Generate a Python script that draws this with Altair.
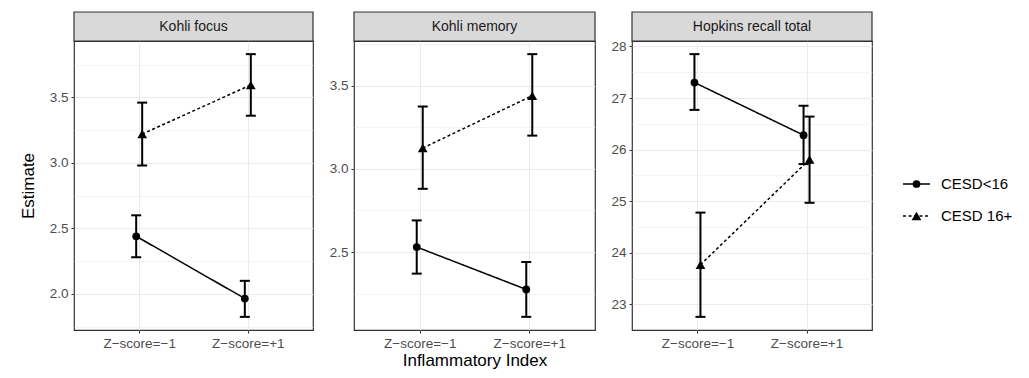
import altair as alt
import pandas as pd
import numpy as np

categories = ["Z\u2212score=\u22121", "Z\u2212score=+1"]
groups = ["CESD<16", "CESD 16+"]
panels = ["Kohli focus", "Kohli memory", "Hopkins recall total"]

# estimates / lower / upper per panel, per group (two categories each)
focus_low_est = [2.44, 1.965]
focus_low_lo = [2.28, 1.825]
focus_low_hi = [2.60, 2.10]
focus_high_est = [3.22, 3.595]
focus_high_lo = [2.98, 3.36]
focus_high_hi = [3.46, 3.83]

memory_low_est = [2.53, 2.275]
memory_low_lo = [2.37, 2.11]
memory_low_hi = [2.69, 2.44]
memory_high_est = [3.125, 3.44]
memory_high_lo = [2.88, 3.20]
memory_high_hi = [3.375, 3.69]

hopkins_low_est = [27.30, 26.28]
hopkins_low_lo = [26.77, 25.72]
hopkins_low_hi = [27.85, 26.85]
hopkins_high_est = [23.77, 25.81]
hopkins_high_lo = [22.76, 24.97]
hopkins_high_hi = [24.78, 26.64]

FONT = "Liberation Sans"
PH = 289


def make_df(low, high):
    rows = []
    for g, (est, lo, hi) in zip(groups, [low, high]):
        for c, e, l, h in zip(categories, est, lo, hi):
            rows.append({"cat": c, "group": g, "est": e, "lo": l, "hi": h})
    return pd.DataFrame(rows)


shape_enc = alt.Shape("group:N", scale=alt.Scale(domain=groups, range=["circle", "triangle-up"]), legend=None)
size_enc = alt.Size("group:N", scale=alt.Scale(domain=groups, range=[60, 95]), legend=None)
dash_enc = alt.StrokeDash("group:N", scale=alt.Scale(domain=groups, range=[[1, 0], [3, 2.5]]), legend=None)


def panel(name, df, major, fmt, ytitle, xtitle, width):
    lo, hi = df["lo"].min(), df["hi"].max()
    pad = 0.05 * (hi - lo)
    dom = [float(lo - pad), float(hi + pad)]
    minor = major / 2
    vals = [float(round(v, 4)) for v in np.arange(np.ceil(dom[0] / minor) * minor, dom[1], minor)]
    is_major = f"abs(datum.value/{major} - round(datum.value/{major})) < 0.000001"
    ax_kw = dict(
        values=vals,
        labelOverlap=False,
        labelExpr=f"{is_major} ? format(datum.value, '{fmt}') : ''",
        tickOpacity={"condition": {"test": is_major, "value": 1}, "value": 0},
        gridWidth={"condition": {"test": is_major, "value": 1.1}, "value": 0.55},
        titleFontSize=17, titleFontWeight="normal", titleColor="#000000",
        title=ytitle if ytitle else "",
    )
    if ytitle:
        ax_kw["titlePadding"] = 12
    yaxis = alt.Axis(**ax_kw)
    ysc = alt.Scale(domain=dom, nice=False, zero=False)
    xenc = alt.X("cat:N", scale=alt.Scale(type="point", domain=categories, padding=0.6),
                 axis=alt.Axis(labelAngle=0, title=xtitle if xtitle else "",
                               titleFontSize=17, titleFontWeight="normal",
                               titleColor="#000000", titlePadding=3))
    xoff = alt.XOffset("group:N", scale=alt.Scale(type="point", domain=groups, range=[-3, 3], padding=0))
    base = alt.Chart(df)
    line = base.mark_line(color="black", strokeWidth=1.5).encode(
        x=xenc, xOffset=xoff,
        y=alt.Y("est:Q", scale=ysc, axis=yaxis),
        strokeDash=dash_enc,
        detail="group:N",
    )
    rule = base.mark_rule(color="black", strokeWidth=2).encode(
        x=xenc, xOffset=xoff, y=alt.Y("lo:Q", scale=ysc, axis=yaxis), y2="hi:Q")
    cap_lo = base.mark_tick(color="black", size=10, thickness=2, opacity=1).encode(
        x=xenc, xOffset=xoff, y=alt.Y("lo:Q", scale=ysc, axis=yaxis))
    cap_hi = base.mark_tick(color="black", size=10, thickness=2, opacity=1).encode(
        x=xenc, xOffset=xoff, y=alt.Y("hi:Q", scale=ysc, axis=yaxis))
    pts = base.mark_point(filled=True, color="black", opacity=1).encode(
        x=xenc, xOffset=xoff, y=alt.Y("est:Q", scale=ysc, axis=yaxis),
        shape=shape_enc, size=size_enc,
    )
    sdf = pd.DataFrame({"panel": [name]})
    strip = alt.Chart(sdf).mark_rect(fill="#D9D9D9", stroke="#333333", strokeWidth=1.2).encode(
        x=alt.value(0), x2=alt.value(width), y=alt.value(-29), y2=alt.value(0))
    stext = alt.Chart(sdf).mark_text(font=FONT, fontSize=14, color="#1A1A1A", baseline="middle").encode(
        x=alt.value(width / 2), y=alt.value(-14.5), text="panel:N")
    return alt.layer(strip, stext, line, rule, cap_lo, cap_hi, pts).properties(width=width, height=PH)


p1 = panel(panels[0], make_df((focus_low_est, focus_low_lo, focus_low_hi),
                              (focus_high_est, focus_high_lo, focus_high_hi)),
           0.5, ".1f", "Estimate", None, 239)
p2 = panel(panels[1], make_df((memory_low_est, memory_low_lo, memory_low_hi),
                              (memory_high_est, memory_high_lo, memory_high_hi)),
           0.5, ".1f", None, "Inflammatory Index", 241)
p3 = panel(panels[2], make_df((hopkins_low_est, hopkins_low_lo, hopkins_low_hi),
                              (hopkins_high_est, hopkins_high_lo, hopkins_high_hi)),
           1, "d", None, None, 240)

ldf = pd.DataFrame({"group": groups})
ly = alt.Y("group:N", scale=alt.Scale(type="point", domain=groups, range=[143, 175], padding=0), axis=None)
lrule = alt.Chart(ldf).mark_rule(color="black", strokeWidth=1.5).encode(
    x=alt.value(15), x2=alt.value(42), y=ly, strokeDash=dash_enc)
lpt = alt.Chart(ldf).mark_point(filled=True, color="black", opacity=1).encode(
    x=alt.value(28.5), y=ly, shape=shape_enc, size=size_enc)
ltxt = alt.Chart(ldf).mark_text(font=FONT, fontSize=15, color="#000000", align="left", baseline="middle").encode(
    x=alt.value(53), y=ly, text="group:N")
legend = alt.layer(lrule, lpt, ltxt).properties(width=110, height=PH,
                                                  view=alt.ViewBackground(stroke="transparent"))

chart = alt.hconcat(p1, p2, p3, legend, spacing=13).properties(
    padding={"left": 18, "top": 10, "right": 0, "bottom": 0}
).configure_view(stroke="#333333", strokeWidth=1.2).configure_axis(
    labelFont=FONT, titleFont=FONT, labelFontSize=13.5, labelColor="#4D4D4D",
    tickColor="#333333", tickSize=3, labelPadding=3, domain=False,
    gridColor="#EBEBEB", grid=True,
).configure_text(font=FONT)

chart.save("out.html", embed_options={"renderer": "svg", "actions": False})
